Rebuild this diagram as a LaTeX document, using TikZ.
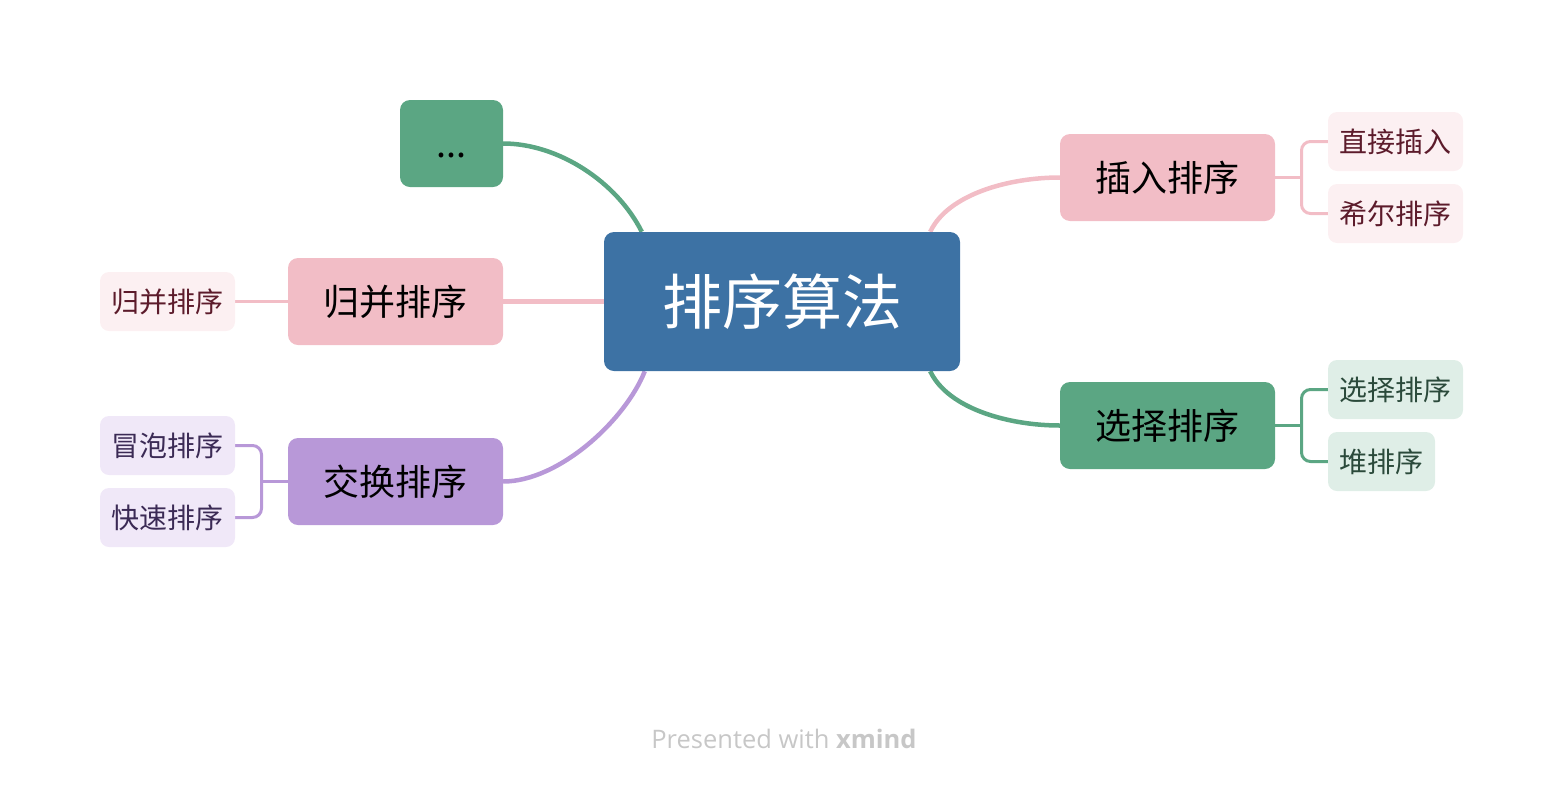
\documentclass[tikz,border=0pt]{standalone}
\usepackage{fontspec}
\newfontfamily\cjk{Noto Sans CJK SC}
\newfontfamily\footfont{Open Sans}
\usetikzlibrary{calc,backgrounds}

\definecolor{rootblue}{HTML}{3D72A4}
\definecolor{pinkmain}{HTML}{F2BDC6}
\definecolor{greenmain}{HTML}{5BA683}
\definecolor{purplemain}{HTML}{B898D8}
\definecolor{pinkleaf}{HTML}{FCF0F2}
\definecolor{greenleaf}{HTML}{DFEEE7}
\definecolor{purpleleaf}{HTML}{F0E8F8}
\definecolor{pinktext}{HTML}{5C1B2B}
\definecolor{greentext}{HTML}{2B4A3B}
\definecolor{purpletext}{HTML}{3B2A55}

\begin{document}
\begin{tikzpicture}[x=1pt,y=-1pt,
  topic/.style={rounded corners=10pt,inner sep=0pt,minimum width=215pt,minimum height=87pt,font=\cjk\fontsize{36}{40}\selectfont},
  leaf/.style={rounded corners=9pt,inner sep=0pt,minimum width=135pt,minimum height=59pt,font=\cjk\fontsize{28}{32}\selectfont},
  link/.style={line width=4.5pt},
  sublink/.style={line width=3pt,rounded corners=9pt}]
\useasboundingbox (0,0) rectangle (1564,788);
%% centre and main topics
\node[topic,fill=rootblue,text=white,minimum width=356pt,minimum height=139pt,font=\cjk\fontsize{60}{66}\selectfont] (root) at (782,301.5) {排序算法};
\node[topic,fill=pinkmain] (ins) at (1167.5,177.5) {插入排序};
\node[topic,fill=greenmain] (sel) at (1167.5,425.5) {选择排序};
\node[topic,fill=pinkmain] (mer) at (395.5,301.5) {归并排序};
\node[topic,fill=purplemain] (exc) at (395.5,481.5) {交换排序};
\node[topic,fill=greenmain,minimum width=103pt] (etc) at (451.5,143.5) {\vphantom{排}...};
%% leaves
\node[leaf,fill=pinkleaf,text=pinktext] (zj) at (1395.5,141.5) {直接插入};
\node[leaf,fill=pinkleaf,text=pinktext] (xe) at (1395.5,213.5) {希尔排序};
\node[leaf,fill=greenleaf,text=greentext] (xz) at (1395.5,389.5) {选择排序};
\node[leaf,fill=greenleaf,text=greentext,minimum width=107pt] (dp) at (1381.5,461.5) {堆排序};
\node[leaf,fill=pinkleaf,text=pinktext] (gb) at (167.5,301.5) {归并排序};
\node[leaf,fill=purpleleaf,text=purpletext] (mp) at (167.5,445.5) {冒泡排序};
\node[leaf,fill=purpleleaf,text=purpletext] (ks) at (167.5,517.5) {快速排序};
%% connectors
\begin{scope}[on background layer]
\draw[link,pinkmain] ([xshift=-30pt]root.north east) .. controls +(18,-38) and +(-50,0) .. (ins.west);
\draw[link,greenmain] ([xshift=-30pt]root.south east) .. controls +(18,38) and +(-50,0) .. (sel.west);
\draw[link,greenmain] ([xshift=38pt]root.north west) .. controls +(-25,-50) and +(55,0) .. (etc.east);
\draw[link,purplemain] ([xshift=41pt]root.south west) .. controls +(-20,50) and +(55,0) .. (exc.east);
\draw[link,pinkmain] (root.west) -- (mer.east);
\coordinate (insm) at ($(ins.east)!.5!(zj.west |- ins.east)$);
\draw[sublink,pinkmain] (ins.east) -- (insm);
\draw[sublink,pinkmain] (zj.west) -| (insm) |- (xe.west);
\coordinate (selm) at ($(sel.east)!.5!(xz.west |- sel.east)$);
\draw[sublink,greenmain] (sel.east) -- (selm);
\draw[sublink,greenmain] (xz.west) -| (selm) |- (dp.west);
\draw[sublink,pinkmain] (mer.west) -- (gb.east);
\coordinate (excm) at ($(exc.west)!.5!(mp.east |- exc.west)$);
\draw[sublink,purplemain] (exc.west) -- (excm);
\draw[sublink,purplemain] (mp.east) -| (excm) |- (ks.east);
\end{scope}
\node[font=\footfont\fontsize{25.5}{30}\selectfont,text=black!22] (foot) at (784,739) {Presented with \textbf{xmind}};
\end{tikzpicture}
\end{document}
